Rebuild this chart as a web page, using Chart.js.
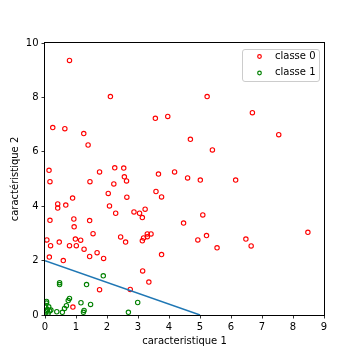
<!DOCTYPE html>
<html><head><meta charset="utf-8">
<script src="https://cdn.jsdelivr.net/npm/chart.js@4/dist/chart.umd.min.js"></script>
<style>html,body{margin:0;padding:0;background:#fff}#w{width:360px;height:360px}</style>
</head><body><div id="w"><canvas id="c" width="360" height="360"></canvas></div>
<script>
const seriesNames = ["classe 0", "classe 1"];
const class0X = [0.79,2.11,5.23,6.69,7.54,3.56,3.96,4.69,5.40,0.25,0.64,1.25,1.39,0.13,1.76,2.25,2.54,2.56,2.63,2.22,0.16,1.45,3.66,4.18,4.60,5.01,6.15,2.04,3.58,3.76,0.89,2.64,0.41,0.41,0.67,2.08,2.28,2.87,3.05,3.23,3.14,5.09,4.47,0.16,0.93,1.44,0.94,1.55,2.44,2.60,3.30,3.42,3.30,3.18,3.14,4.93,5.21,6.48,6.65,5.55,8.48,3.76,0.06,0.18,0.46,0.79,0.98,1.01,1.15,1.26,1.68,1.44,1.89,0.14,0.59,3.15,3.35,1.76,2.75,0.90];
const class0Y = [9.36,8.03,8.03,7.44,6.63,7.23,7.30,6.46,6.07,6.89,6.85,6.67,6.25,5.32,5.26,5.41,5.40,5.08,4.93,4.82,4.90,4.90,5.18,5.26,5.04,4.96,4.96,4.47,4.54,4.34,4.30,4.33,4.08,3.93,4.04,4.01,3.74,3.79,3.74,3.89,3.58,3.68,3.38,3.48,3.53,3.47,3.24,2.99,2.87,2.68,2.98,2.98,2.88,2.83,2.73,2.76,2.92,2.79,2.54,2.47,3.04,2.22,2.76,2.55,2.68,2.55,2.79,2.55,2.75,2.42,2.29,2.15,2.08,2.13,2.00,1.62,1.21,0.93,0.94,0.29];
const class1X = [1.88,0.47,0.47,1.34,2.99,0.79,0.75,0.69,1.16,1.47,0.63,0.38,0.56,0.19,1.26,1.24,2.69,0.05,0.05,0.02,0.08,0.03,0.10,0.15,0.02,0.12];
const class1Y = [1.44,1.19,1.12,1.12,0.46,0.61,0.53,0.34,0.45,0.39,0.24,0.12,0.10,0.18,0.17,0.10,0.10,0.50,0.44,0.30,0.20,0.12,0.06,0.15,0.02,0.30];
const boundaryX = [0, 5];
const boundaryY = [2, 0];
const xTicks = [0,1,2,3,4,5,6,7,8,9];
const yTicks = [0,2,4,6,8,10];
const xTitle = "caracteristique 1";
const yTitle = "caractéristique 2";

const FONT = {family: "'DejaVu Sans'", size: 10};
const pts = (xs, ys) => xs.map((x, i) => ({x: x, y: ys[i]}));

const framePlugin = {
  id: 'frame',
  afterDatasetsDraw(chart) {
    const a = chart.chartArea, ctx = chart.ctx;
    ctx.save();
    ctx.strokeStyle = '#000';
    ctx.lineWidth = 1;
    ctx.strokeRect(Math.round(a.left) - 0.5, Math.round(a.top) - 0.5, Math.round(a.right - a.left) + 1, Math.round(a.bottom - a.top) + 1);
    ctx.restore();
  },
  afterDraw(chart) {
    const ctx = chart.ctx;
    const ds = chart.data.datasets.filter(d => d.type !== 'line');
    ctx.save();
    const bx = 242.5, by = 49.5, bw = 77, bh = 32, r = 2.5;
    ctx.beginPath();
    ctx.moveTo(bx + r, by);
    ctx.lineTo(bx + bw - r, by);
    ctx.quadraticCurveTo(bx + bw, by, bx + bw, by + r);
    ctx.lineTo(bx + bw, by + bh - r);
    ctx.quadraticCurveTo(bx + bw, by + bh, bx + bw - r, by + bh);
    ctx.lineTo(bx + r, by + bh);
    ctx.quadraticCurveTo(bx, by + bh, bx, by + bh - r);
    ctx.lineTo(bx, by + r);
    ctx.quadraticCurveTo(bx, by, bx + r, by);
    ctx.closePath();
    ctx.fillStyle = 'rgba(255,255,255,0.8)';
    ctx.fill();
    ctx.strokeStyle = '#cccccc';
    ctx.lineWidth = 1;
    ctx.stroke();
    ctx.font = "10px 'DejaVu Sans'";
    ctx.textBaseline = 'middle';
    ctx.fillStyle = '#000';
    const rows = [56.5, 73];
    ds.forEach((d, i) => {
      ctx.beginPath();
      ctx.arc(259.5, rows[i], 1.8, 0, Math.PI * 2);
      ctx.strokeStyle = d.borderColor;
      ctx.lineWidth = 1.2;
      ctx.stroke();
      ctx.fillText(d.label, 275, rows[i] - 0.5);
    });
    ctx.restore();
  }
};

new Chart(document.getElementById('c'), {
  type: 'scatter',
  data: {
    datasets: [
      {type: 'line', label: 'frontière', data: pts(boundaryX, boundaryY), borderColor: '#1f77b4', borderWidth: 1.5, pointRadius: 0, fill: false, order: 0, clip: 0},
      {label: seriesNames[0], data: pts(class0X, class0Y), borderColor: '#ff0000', backgroundColor: 'rgba(0,0,0,0)', pointRadius: 2.2, borderWidth: 1.1, order: 1, clip: 0},
      {label: seriesNames[1], data: pts(class1X, class1Y), borderColor: '#008000', backgroundColor: 'rgba(0,0,0,0)', pointRadius: 2.2, borderWidth: 1.1, order: 2, clip: 0}
    ]
  },
  options: {
    responsive: false,
    animation: false,
    devicePixelRatio: 1,
    layout: {padding: {left: 0, right: 36, top: 43, bottom: 0}},
    plugins: {legend: {display: false}, tooltip: {enabled: false}},
    scales: {
      x: {
        type: 'linear', min: 0, max: 9,
        afterFit(s) { s.height = 45; },
        afterBuildTicks(s) { s.ticks = xTicks.map(v => ({value: v})); },
        grid: {display: true, drawOnChartArea: false, drawTicks: true, tickLength: 3.5, color: '#000', lineWidth: 0.8},
        border: {display: false},
        ticks: {font: FONT, color: '#000', padding: 3, maxRotation: 0, autoSkip: false},
        title: {display: true, text: xTitle, font: FONT, color: '#000', padding: {top: 0, bottom: 13}}
      },
      y: {
        type: 'linear', min: 0, max: 10,
        afterFit(s) { s.width = 45; },
        afterBuildTicks(s) { s.ticks = yTicks.map(v => ({value: v})); },
        grid: {display: true, drawOnChartArea: false, drawTicks: true, tickLength: 3.5, color: '#000', lineWidth: 0.8},
        border: {display: false},
        ticks: {font: FONT, color: '#000', padding: 3, autoSkip: false},
        title: {display: true, text: yTitle, font: FONT, color: '#000', padding: {top: 9, bottom: 0}}
      }
    }
  },
  plugins: [framePlugin]
});
</script>
</body></html>
